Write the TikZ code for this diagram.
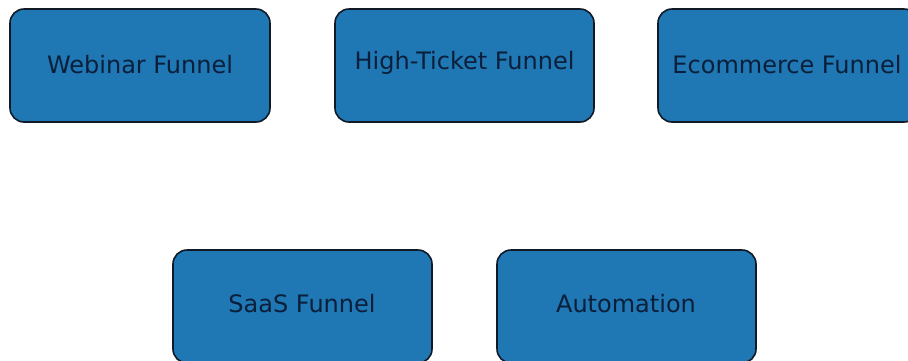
\documentclass[tikz,border=0pt]{standalone}
\usepackage{fontspec}
\setmainfont{DejaVu Sans}
\definecolor{boxfill}{HTML}{1F77B4}
\definecolor{boxedge}{HTML}{0F1A26}
\definecolor{boxtext}{HTML}{0B1F3A}
\begin{document}
\begin{tikzpicture}[x=1pt,y=-1pt,
  funnelbox/.style={draw=boxedge, line width=1.6pt, fill=boxfill, rounded corners=14pt},
  boxlabel/.style={text=boxtext, font=\fontsize{24}{28}\selectfont, inner sep=0pt}]
\useasboundingbox (0,0) rectangle (908,360);
\clip (0,0) rectangle (908,360);
\draw[funnelbox] (10,9) rectangle (270,122);
\node[boxlabel] (webinar) at (140,65) {Webinar Funnel};
\draw[funnelbox] (335,9) rectangle (594,122);
\node[boxlabel] (highticket) at (464.5,63) {High-Ticket Funnel};
\draw[funnelbox] (658,9) rectangle (918,122);
\node[boxlabel] (ecommerce) at (787,65) {Ecommerce Funnel};
\draw[funnelbox] (173,250) rectangle (432,363);
\node[boxlabel] (saas) at (302,304) {SaaS Funnel};
\draw[funnelbox] (497,250) rectangle (756,363);
\node[boxlabel] (automation) at (626,304) {Automation};
\end{tikzpicture}
\end{document}
